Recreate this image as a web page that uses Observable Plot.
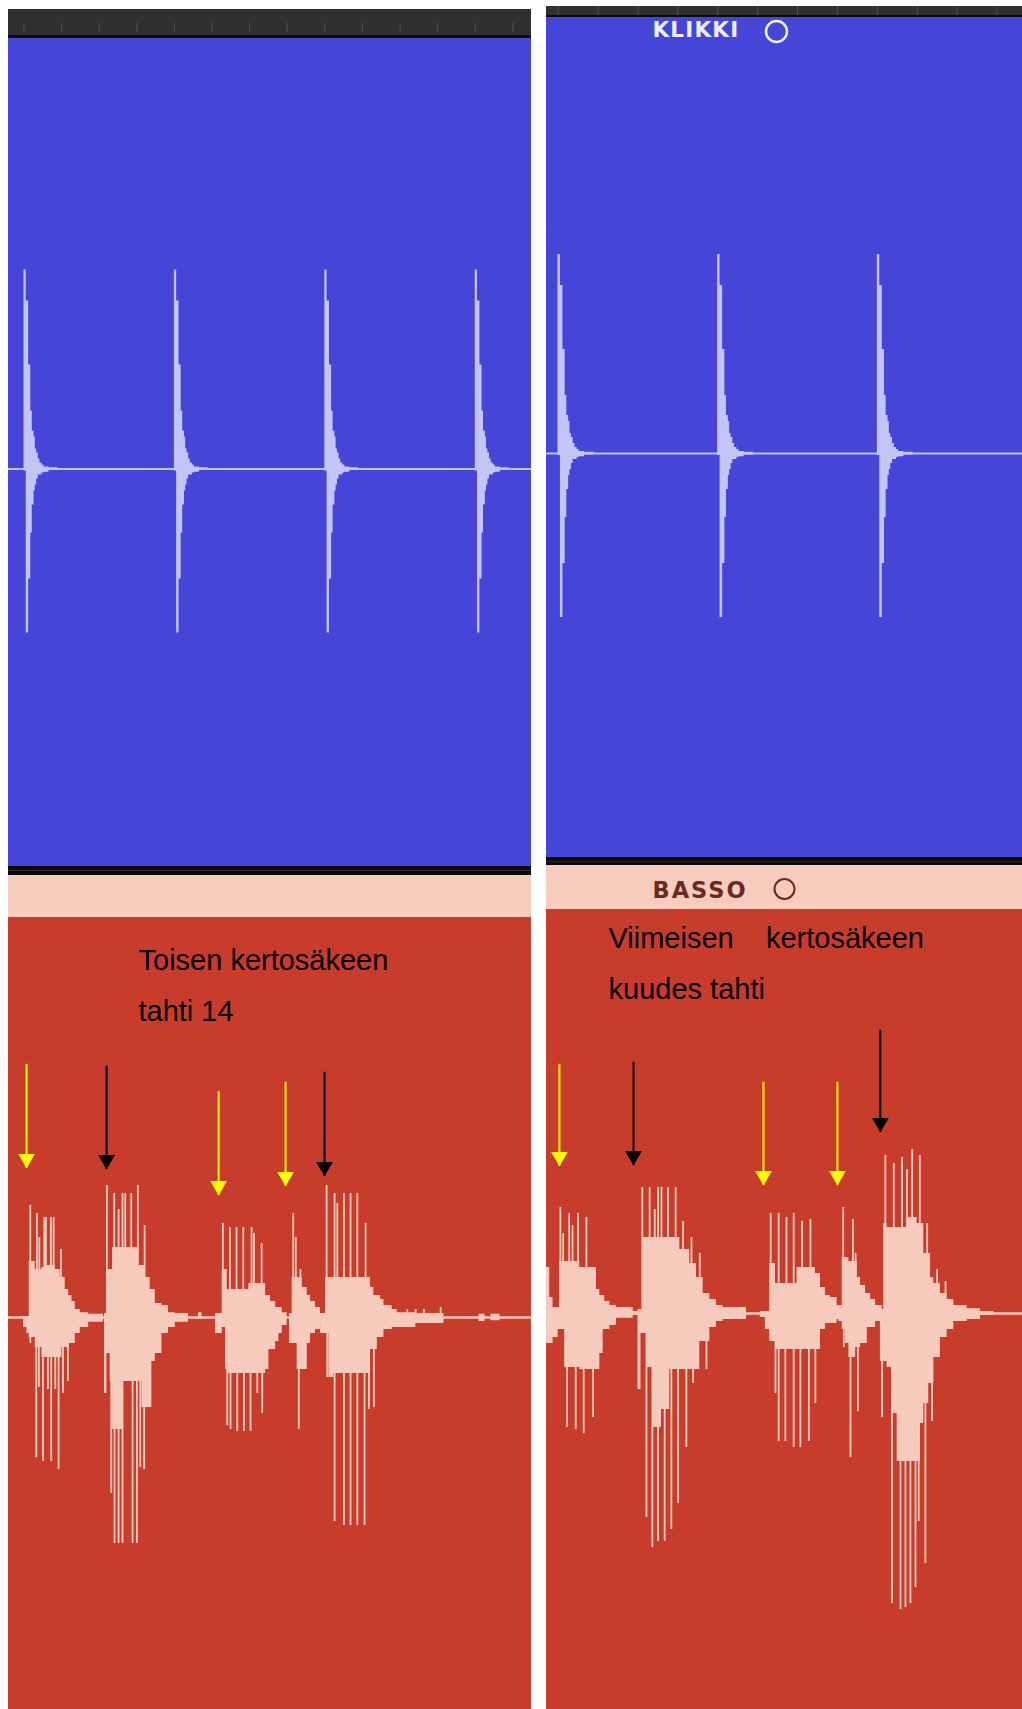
<!DOCTYPE html>
<html><head><meta charset="utf-8">
<script src="https://cdn.jsdelivr.net/npm/d3@7"></script>
<script src="https://cdn.jsdelivr.net/npm/@observablehq/plot@0.6"></script>
<style>
html,body{margin:0;padding:0;background:#fff;}
#root{position:relative;width:1022px;height:1709px;overflow:hidden;background:#fff;}
.blk{position:absolute;overflow:hidden;}
.blk svg{display:block;}
</style></head><body><div id="root"></div>
<script>
// ---------- DATA (time in beats, offsets in 1/100 beat, amplitude in % of full scale) ----------
const leftClicks = [1, 2, 3, 4];
const rightClicks = [1, 2, 3];
// one click waveform: [offset (1/100 beat), top, bottom]
const clickShape = [[0,49.75,-0.5],[1.5,42,-41],[3.1,26,-27.5],[4.5,14.5,-16],[5.5,9.5,-9],[6.7,8,-5.5],[7.5,5,-4],[8.4,4,-2.5],[9.5,2.5,-1.5],[10.6,1.5,-1.5],[12,1,-1],[13.3,0.5,-0.8],[16.6,0.3,-0.4],[22.6,0,0]];
const leftTicks = [1,1.25,1.5,1.75,2,2.25,2.5,2.75,3,3.25,3.5,3.75,4,4.25];
const rightTicks = [1,1.25,1.5,1.75,2,2.25,2.5,2.75,3,3.25,3.5,3.75];

// bass note onsets (beats)
const leftOnsets = [1.035, 1.54, 2.318, 2.783, 3.005];
const rightOnsets = [1.011, 1.518, 2.326, 2.78, 3.04];

// bass envelope body: [note, offset, top, bottom]
const leftBody = [
 [0,-3.8,0.25,-2.5],[0,-1.6,0.25,-4],[0,0,14,-5],[0,4,12,-7.5],[0,8.4,12.5,-10],[0,10.6,13,-10],[0,17.3,12,-10],[0,20.6,10,-10],[0,21.7,10,-7.5],[0,23.9,7,-7.5],[0,26.2,5.5,-6.5],[0,28.4,4,-6.5],[0,30.6,2,-4],[0,33.9,1.2,-2.5],[0,39.5,0.8,-1.2],[0,49.4,0,0],
 [1,-0.4,1,-19],[1,1.1,12,-9],[1,3.3,12,-16],[1,4.9,17.5,-28],[1,12.2,17.5,-16],[1,22.2,13,-16],[1,24.4,13,-22.5],[1,26.6,10,-22.5],[1,29.9,7,-22.5],[1,31,7,-11],[1,33.3,3.5,-9],[1,37.7,3,-4],[1,42.1,1.2,-2.5],[1,46.6,1,-1.2],[1,55.4,0,0],[1,62,1.2,-0.5],[1,64.3,0,0],
 [2,-4.4,1,-4],[2,0,12,-2.5],[2,2.2,12,-13],[2,3.3,7,-14],[2,16.6,7,-14],[2,17.7,8.5,-14],[2,25.5,8.5,-14],[2,28.8,5.5,-13],[2,31,5.5,-8],[2,32.1,4,-8],[2,35.5,2.5,-6],[2,37.7,2.5,-4],[2,39.9,1.2,-2],[2,43.2,0,0],
 [3,-1.8,1,-6.5],[3,0,10,-6.5],[3,3.3,10,-13],[3,6.7,7.5,-13],[3,10,5.5,-6.5],[3,12.2,4,-4],[3,15.5,2.5,-3],[3,18.8,1,-1.5],[3,21,0,0],
 [4,-3.3,1,-4],[4,0,10,-4],[4,2.2,10,-15],[4,5.5,10,-14],[4,29.9,7.5,-8],[4,32.1,5.5,-8],[4,34.4,5.5,-5],[4,36.6,4.5,-5],[4,38.8,3,-3],[4,44.3,2,-2.5],[4,47.7,1.2,-2.5],[4,60,1,-1.5],[4,78.7,0,0],[4,102,0.8,-1],[4,106,0,0],[4,110,0.8,-0.8],[4,116,0,0]
];
// bass transient spikes: [note, offset, amplitude]
const leftUp = [
 [0,0.7,28],[0,5.1,26],[0,6.7,20],[0,10,25],[0,11.1,25],[0,14.4,25],[0,16.2,25],[0,21.1,17],
 [1,1.1,33],[1,6,31],[1,8.9,27],[1,11.5,31],[1,13.3,31],[1,17.3,31],[1,21.7,33],[1,26.2,23],
 [2,0.4,23.5],[2,5.1,22.5],[2,9.5,22.5],[2,14,22.5],[2,19.5,22.5],[2,21.1,21],[2,26.2,18.5],
 [3,0.7,26],[3,2.4,20],[3,5.5,12],
 [4,0.7,33],[4,6,31],[4,7.8,28.5],[4,12.2,31],[4,16.6,31],[4,21.1,31],[4,26.6,23.5],[4,54.3,2],[4,59.9,2],[4,65.4,2],[4,76.5,2.5]
];
const leftDown = [
 [0,0.7,-6.5],[0,4.7,-35],[0,6.4,-17.5],[0,9.1,-36],[0,12.4,-18],[0,14.6,-36],[0,17.3,-18],[0,19.5,-38],[0,22.4,-19],[0,25.7,-16],
 [1,0,-19],[1,4,-44],[1,6.2,-56.5],[1,8.9,-56.5],[1,11.5,-56.5],[1,18.2,-56.5],[1,21.1,-56.5],[1,23.3,-37.5],[1,25.9,-38],
 [2,3.3,-27],[2,5.5,-28],[2,10,-28.5],[2,14.4,-28.5],[2,18.8,-28.5],[2,23.3,-19],[2,26.6,-24],
 [3,-1.1,-6.5],[3,4.4,-28],
 [4,1.1,-15],[4,6,-51],[4,12.2,-52],[4,16.6,-52],[4,21.1,-52],[4,25.9,-52],[4,28.8,-23],[4,32.1,-22.5]
];
const rightBody = [
 [0,-9,11.5,-7.5],[0,-6.3,4,-7.5],[0,-4.2,1.5,-6],[0,-1,1.5,-4],[0,0,13,-4],[0,3.1,13,-13.5],[0,12.5,11.5,-14],[0,23,6,-14],[0,25.1,4.5,-10],[0,27.2,4.5,-4],[0,28.2,3,-4],[0,31.4,2,-3],[0,35.5,1.5,-1.2],[0,46,0.5,-0.5],[0,50.2,0,0],
 [1,-1.7,1,-19],[1,0,1,-5],[1,1.5,19,-5],[1,3.6,19,-13.5],[1,7.7,19,-28.5],[1,13,19,-24],[1,18.2,19,-14],[1,24.5,16,-14],[1,30.7,12.5,-14],[1,34.9,9,-14],[1,37,9,-7],[1,39.1,5,-7],[1,43.3,3.5,-3.5],[1,47.4,2,-2],[1,51.6,1.5,-1.5],[1,66.3,0,0],
 [2,-5.9,0.5,-1],[2,-2.7,0.5,-4],[2,0,12.5,-7],[2,3.6,7.5,-9],[2,17.1,11.5,-9],[2,28.6,10,-9],[2,31.8,6.5,-4],[2,34.9,4.5,-2.5],[2,38,4,-2.5],[2,42.2,2,-1.5],[2,45.4,0,0],
 [3,-2.1,1,-2],[3,0,14,-4],[3,2.1,14,-7.5],[3,4.2,13,-11],[3,8.4,13,-8.5],[3,9.4,9,-8.5],[3,11.5,7,-7.5],[3,14.6,5,-7.5],[3,15.7,5,-3.5],[3,17.8,3.5,-3.5],[3,20.9,2,-2],[3,25.1,0,0],
 [4,-2.1,1,-12],[4,0,22.5,-12],[4,2.1,21.5,-13.5],[4,5.2,21.5,-25],[4,8.4,21.5,-37],[4,14.6,24,-37],[4,20.9,22.5,-37],[4,23,22.5,-27.5],[4,25.1,15,-22.5],[4,28.2,15,-17.5],[4,29.3,9,-17.5],[4,31.4,7.5,-11],[4,35.5,5,-6],[4,39.7,3.5,-4],[4,43.9,2,-2],[4,52.3,1.2,-1.5],[4,60.6,0.5,-0.5],[4,69,0,0]
];
const rightUp = [
 [0,0.4,26.5],[0,2.1,20],[0,5.9,25],[0,8,22],[0,11.5,25],[0,16.7,24],
 [1,1,31.5],[1,5.6,31.5],[1,8.8,26],[1,10.9,31.5],[1,13,31.5],[1,17.1,31.5],[1,21.9,31.5],[1,26.5,23],[1,31.8,19],[1,37,15],
 [2,0.6,25],[2,5.6,25],[2,10.5,24],[2,15,25],[2,20.3,23],[2,25.5,23.5],
 [3,0.6,26.5],[3,6.7,23.5],[3,8.4,15],
 [4,1,39.5],[4,6.3,37.5],[4,11.5,39],[4,14.6,36],[4,17.8,41],[4,22.6,39.5],[4,27.2,22.5],[4,33.4,11],[4,38.7,8]
];
const rightDown = [
 [0,4.6,-28.5],[0,10,-29],[0,15,-30],[0,20.9,-26],
 [1,-0.8,-19],[1,3.6,-51],[1,7.3,-58.5],[1,10.9,-57],[1,15,-57],[1,19.2,-54],[1,23.4,-47.5],[1,28.6,-33.5],[1,32.8,-17.5],[1,41.2,-14],
 [2,3.6,-20],[2,5.6,-32],[2,9.8,-32],[2,15,-33.5],[2,19.2,-33.5],[2,24.5,-32],[2,28.6,-22.5],
 [3,1,-8.5],[3,5.2,-36],[3,9.8,-24.5],
 [4,-1,-26],[4,5.2,-72.5],[4,10.5,-74],[4,13.6,-73.5],[4,16.7,-72.5],[4,19.9,-68.5],[4,21.9,-52],[4,26.1,-62.5],[4,30.3,-27]
];
// arrows: [beat, start amplitude, tip amplitude, kind]
const leftArrows = [[1.017,63.3,37.3,"keltainen"],[1.549,62.8,37,"musta"],[2.294,56.5,30.5,"keltainen"],[2.739,58.8,32.8,"keltainen"],[2.998,61.3,35.3,"musta"]];
const rightArrows = [[1.009,62.3,36.8,"keltainen"],[1.473,62.8,37,"musta"],[2.287,57.8,32,"keltainen"],[2.75,57.8,32,"keltainen"],[3.019,70.8,45.3,"musta"]];
const leftNote = ["Toisen kertosäkeen", "tahti 14"];
const rightNote = ["Viimeisen\u00a0\u00a0\u00a0\u00a0kertosäkeen", "kuudes tahti"];
const trackNames = ["KLIKKI", "BASSO"];

// ---------- STYLE ----------
const COL = {blue:"#4545D8", wave:"#C4C4F6", red:"#C83C2B", pink:"#F6CCBE", bassWave:"#F6CBBD",
  header:"#303030", tick:"#4E4E4E", black:"#0B0B0B", sepLine:"#2C2C2C", klikki:"#EEEEFF", basso:"#6B2A21"};
const ARROW = {keltainen:"#FFFF00", musta:"#000000"};
const L = {x:8, w:523, dom:[0.897, 4.374]};
const R = {x:546, w:476, dom:[0.928, 3.909]};

const root = document.getElementById("root");
function place(node, x, y, w, h, bg) {
  const d = document.createElement("div");
  d.className = "blk";
  Object.assign(d.style, {left:x+"px", top:y+"px", width:w+"px", height:h+"px"});
  if (bg) d.style.background = bg;
  if (node) d.appendChild(node);
  root.appendChild(d);
  return d;
}

function header(P, h, ticks, y1, y2) {
  return Plot.plot({width:P.w, height:h, margin:0, x:{domain:P.dom, axis:null}, y:{domain:[0,1], axis:null},
    style:{background:COL.header},
    marks:[Plot.ruleX(ticks, {x:d=>d, y1, y2, stroke:COL.tick, strokeWidth:1})]});
}

function clickPlot(P, h, yDomain, clicks, extra, style) {
  const shape = clicks.flatMap(c => clickShape.map(([dt, top, bot]) => ({id:c, t:c + dt/100, top, bot})));
  return Plot.plot({width:P.w, height:h, margin:0,
    x:{domain:P.dom, axis:null}, y:{domain:yDomain, axis:null},
    style:Object.assign({background:COL.blue, overflow:"hidden"}, style || {}),
    marks:[
      Plot.ruleY([0], {stroke:COL.wave, strokeWidth:2}),
      Plot.areaY(shape, {x:"t", y1:"bot", y2:"top", z:"id", curve:"step-after", fill:COL.wave}),
      ...(extra || [])
    ]});
}

function bassPlot(P, h, yDomain, onsets, body, up, down, arrows, texts) {
  const bodyData = body.map(([b, dt, top, bot]) => ({id:b, t:onsets[b] + dt/100, top, bot}));
  const upData = up.map(([b, dt, a]) => ({t:onsets[b] + dt/100, a}));
  const downData = down.map(([b, dt, a]) => ({t:onsets[b] + dt/100, a}));
  const arrowData = arrows.map(([t, top, tip, kind]) => ({t, top, tip, kind}));
  return Plot.plot({width:P.w, height:h, margin:0,
    x:{domain:P.dom, axis:null}, y:{domain:yDomain, axis:null},
    color:{type:"identity"},
    style:{background:COL.red, overflow:"hidden"},
    marks:[
      Plot.ruleY([0], {stroke:COL.bassWave, strokeWidth:2.5}),
      Plot.areaY(bodyData, {x:"t", y1:"bot", y2:"top", z:"id", curve:"step-after", fill:COL.bassWave, clip:true}),
      Plot.ruleX(upData, {x:"t", y1:0, y2:"a", stroke:COL.bassWave, strokeWidth:1.8}),
      Plot.ruleX(downData, {x:"t", y1:0, y2:"a", stroke:COL.bassWave, strokeWidth:1.8}),
      Plot.ruleX(arrowData, {x:"t", y1:"top", y2:"tip", stroke:d => ARROW[d.kind], strokeWidth:2}),
      Plot.dot(arrowData, {x:"t", y:"tip", symbol:"triangle", rotate:180, r:6.2, fill:d => ARROW[d.kind], stroke:"none", dy:-9.6}),
      ...texts
    ]});
}

const noteFont = {fontFamily:"'Liberation Sans', Arial, sans-serif", fontSize:29, fill:"#000", textAnchor:"start", lineAnchor:"bottom", frameAnchor:"top-left"};

// ---------- LEFT PANEL ----------
place(header(L, 26, leftTicks, 0.1, 0.48), L.x, 9, L.w, 26);
place(null, L.x, 35, L.w, 3, COL.black);
place(clickPlot(L, 828, [-99.375, 107.625], leftClicks), L.x, 38, L.w, 828);
place(null, L.x, 866, L.w, 9, COL.black);
place(null, L.x, 870, L.w, 1, COL.sepLine);
place(null, L.x, 875, L.w, 42, COL.pink);
place(bassPlot(L, 792, [-98, 100], leftOnsets, leftBody, leftUp, leftDown, leftArrows, [
  Plot.text([leftNote[0]], {...noteFont, dx:130, dy:52}),
  Plot.text([leftNote[1]], {...noteFont, dx:130, dy:103})
]), L.x, 917, L.w, 792);

// ---------- RIGHT PANEL ----------
place(header(R, 9, rightTicks, 0, 1), R.x, 6, R.w, 9);
place(null, R.x, 15, R.w, 2, COL.black);
place(clickPlot(R, 840, [-101, 109], rightClicks, [
  Plot.text([trackNames[0]], {frameAnchor:"top-left", dx:106, dy:19, textAnchor:"start", lineAnchor:"bottom",
    fontFamily:"'DejaVu Sans', sans-serif", fontWeight:"bold", fontSize:21.5, fill:COL.klikki}),
  Plot.dot([0], {frameAnchor:"top-left", dx:230, dy:14, r:10.5, stroke:COL.klikki, strokeWidth:2.5, fill:"none"})
], {letterSpacing:"1.2px"}), R.x, 17, R.w, 840);
place(null, R.x, 857, R.w, 8, COL.black);
place(null, R.x, 861, R.w, 1, COL.sepLine);
place(Plot.plot({width:R.w, height:44, margin:0, x:{domain:R.dom, axis:null}, y:{domain:[0,1], axis:null},
  style:{background:COL.pink, letterSpacing:"2px"},
  marks:[
    Plot.text([trackNames[1]], {frameAnchor:"top-left", dx:106, dy:32, textAnchor:"start", lineAnchor:"bottom",
      fontFamily:"'DejaVu Sans', sans-serif", fontWeight:"bold", fontSize:22.5, fill:COL.basso}),
    Plot.dot([0], {frameAnchor:"top-left", dx:238, dy:23.5, r:10, stroke:COL.basso, strokeWidth:2, fill:"none"})
  ]}), R.x, 865, R.w, 44);
place(bassPlot(R, 800, [-99, 101], rightOnsets, rightBody, rightUp, rightDown, rightArrows, [
  Plot.text([rightNote[0]], {...noteFont, dx:62, dy:38}),
  Plot.text([rightNote[1]], {...noteFont, dx:62, dy:89})
]), R.x, 909, R.w, 800);
</script></body></html>
